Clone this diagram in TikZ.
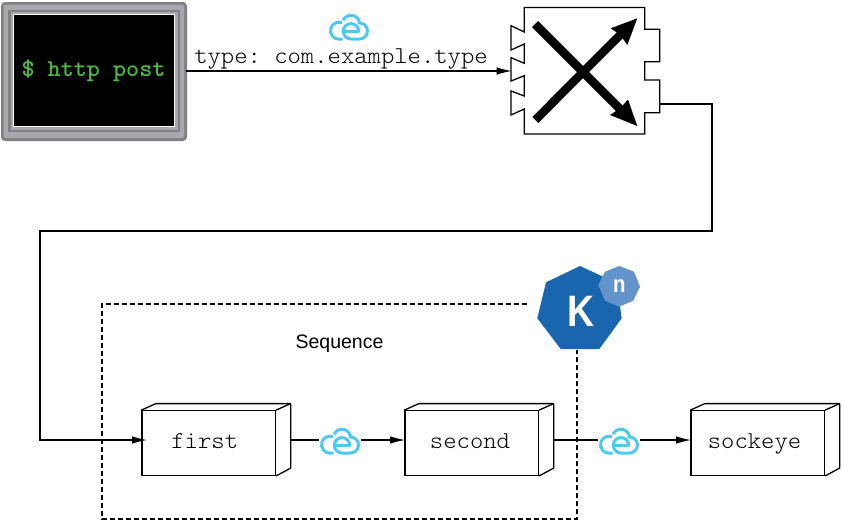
\documentclass[tikz,border=0pt]{standalone}
\usepackage{fontspec}
\usepackage{graphicx}
\usetikzlibrary{arrows.meta,calc}
\newfontfamily\logofont{Liberation Sans}
\definecolor{cloudblue}{HTML}{4FC8EF}
\definecolor{kdark}{HTML}{1A66AE}
\definecolor{klight}{HTML}{6393CB}
\definecolor{termdark}{HTML}{7F8284}
\definecolor{termlight}{HTML}{A7A9AC}
\definecolor{termgreen}{HTML}{4DB848}
\newcommand{\widemono}[1]{\scalebox{1.05}[1]{\frenchspacing #1}}
\newcommand{\termmono}[1]{\scalebox{1.03}[1]{\frenchspacing #1}}
\tikzset{
  x=1pt,y=1pt,
  wire/.style={draw=black,line width=1.15pt},
  flow/.style={wire,shorten >=-0.7pt,-{Latex[length=15pt,width=7.5pt]}},
  fence/.style={draw=black,line width=1.2pt,dash pattern=on 5pt off 3pt},
  mono/.style={font=\fontsize{24.2}{26}\selectfont\ttfamily\fontseries{l}\selectfont},
  cube/.style={draw=black,line width=1.3pt,fill=white,minimum width=133.5pt,minimum height=64.5pt,inner sep=0pt,mono,text height=14pt,text depth=4pt},
  cubeside/.style={draw=black,line width=1.3pt,line join=round},
  iconslot/.style={minimum width=41pt,minimum height=27pt,inner sep=0pt},
  ceicon/.pic={
    \draw[cloudblue,line width=3pt,line cap=butt]
      (-7.1,4.3) arc[start angle=70,end angle=270,radius=8.5] -- (-6.5,-12.2);
    \draw[cloudblue,line width=3pt,line join=round]
      (-6,6.7) arc[start angle=155,end angle=10,radius=8.8] -- (10.5,4)
      arc[start angle=90,end angle=-90,radius=8] -- (2,-12)
      arc[start angle=270,end angle=0,radius=7.7] -- (-5.7,-4.3);
  }
}
\newcommand{\cubedepth}[1]{%
  \draw[cubeside] (#1.north west) -- ++(14.5,6.5) -- ($(#1.north east)+(14.5,6.5)$) -- ++(0,-64.5) -- (#1.south east);
  \draw[cubeside] (#1.north east) -- ++(14.5,6.5);
}
\begin{document}
\begin{tikzpicture}
\useasboundingbox (0,0) rectangle (842,-522);

% terminal
\fill[termdark,rounded corners=4pt] (1,-2) rectangle (187,-141);
\fill[termlight,rounded corners=2pt] (3.5,-4.5) rectangle (184,-138);
\fill[termdark] (8,-9.5) rectangle (180,-132);
\fill[termlight] (10.5,-12) rectangle (177.5,-129.5);
\node (term) [draw=white,line width=1pt,fill=black,minimum width=161pt,minimum height=112pt,inner sep=0pt,
  text=termgreen,font=\fontsize{24.2}{26}\selectfont\ttfamily\bfseries] at (93.5,-70.5) {\termmono{\$ http post}};
\coordinate (termout) at (186,-71);

% router
\node (router) [minimum width=120.4pt,minimum height=126.5pt,inner sep=0pt] at (584.5,-70.75) {};
\draw[line width=1.3pt,fill=white,line join=miter]
  (524.3,-7.5) -- (644.7,-7.5) -- (644.7,-29.3) -- (659.7,-29.3) -- (659.7,-61.7) -- (644.7,-61.7)
  -- (644.7,-80) -- (659.7,-80) -- (659.7,-112.7) -- (644.7,-112.7) -- (644.7,-134) -- (524.3,-134)
  -- (524.3,-109) -- (511,-115) -- (511,-91) -- (524.3,-96) -- (524.3,-75.7) -- (511,-81)
  -- (511,-57.7) -- (524.3,-63.3) -- (524.3,-44) -- (511,-50) -- (511,-25.7) -- (524.3,-32) -- cycle;
\draw[line width=8.5pt] (535.3,-120) -- (622,-33);
\fill (637.3,-18.3) -- (610.7,-28.3) -- (620.5,-35) -- (627.3,-45) -- cycle;
\draw[line width=8.5pt] (535,-24) -- (622,-111);
\fill (637.3,-126) -- (610,-115) -- (620.5,-108) -- (628,-99.5) -- cycle;
\coordinate (routerin) at (511,-71);
\coordinate (routerout) at (660,-104);

% dashed sequence boundary
\coordinate (seqa) at (527,-304);
\coordinate (seqb) at (577,-350);
\draw[fence] (seqa) -- (102,-304) -- (102,-519) -- (577,-519) -- (seqb);
\node (seqlabel) [font=\logofont\fontsize{19.5}{22}\selectfont,inner sep=0pt] at (339.5,-343.5) {Sequence};

% knative logo
\fill[kdark] (580,-266) -- (616.7,-283) -- (621.7,-318.3) -- (599.3,-349) -- (560.7,-349) -- (537.3,-318.3) -- (546,-282.3) -- cycle;
\fill[klight] (619.3,-266) -- (634,-271.7) -- (640,-286.7) -- (633.3,-300.7) -- (619.3,-306.7) -- (605,-300.7) -- (598.3,-285) -- (605,-271.7) -- cycle;
\node (kletter) [text=white,font=\logofont\bfseries\fontsize{44}{44}\selectfont,inner sep=0pt] at (580.5,-311) {\scalebox{0.85}[1]{K}};
\node (nletter) [text=white,font=\logofont\bfseries\fontsize{24}{24}\selectfont,inner sep=0pt] at (619.3,-286) {\scalebox{0.85}[1]{n}};

% processing boxes
\node (first) [cube] at (208.75,-443) {\widemono{first}\hspace*{8pt}};
\node (second) [cube] at (471.75,-443) {\widemono{second}\hspace*{3.5pt}};
\node (sockeye) [cube] at (757.75,-443) {\widemono{sockeye}\hspace*{6.5pt}};
\cubedepth{first}
\cubedepth{second}
\cubedepth{sockeye}

% cloud icons
\node (cloudtop) [iconslot] at (349,-27) {};
\node (cloudone) [iconslot] at (340,-441) {};
\node (cloudtwo) [iconslot] at (619,-441) {};
\pic at (cloudtop) {ceicon};
\pic at (cloudone) {ceicon};
\pic at (cloudtwo) {ceicon};

% label
\node (typelabel) [mono,inner sep=0pt,anchor=base] at (341,-63) {\widemono{type: com.example.type}};

% connectors
\draw[flow] (termout) -- (routerin);
\draw[flow] (routerout) -- (712,-104) -- (712,-231) -- (40,-231) -- (40,-440) -- ([xshift=5pt,yshift=3pt]first.west);
\draw[wire] ([xshift=14.5pt,yshift=3pt]first.east) -- ([yshift=1pt]cloudone.west);
\draw[flow] ([yshift=1pt]cloudone.east) -- ([yshift=3pt]second.west);
\draw[wire] ([xshift=14.5pt,yshift=3pt]second.east) -- ([yshift=1pt]cloudtwo.west);
\draw[flow] ([yshift=1pt]cloudtwo.east) -- ([yshift=3pt]sockeye.west);
\end{tikzpicture}
\end{document}
